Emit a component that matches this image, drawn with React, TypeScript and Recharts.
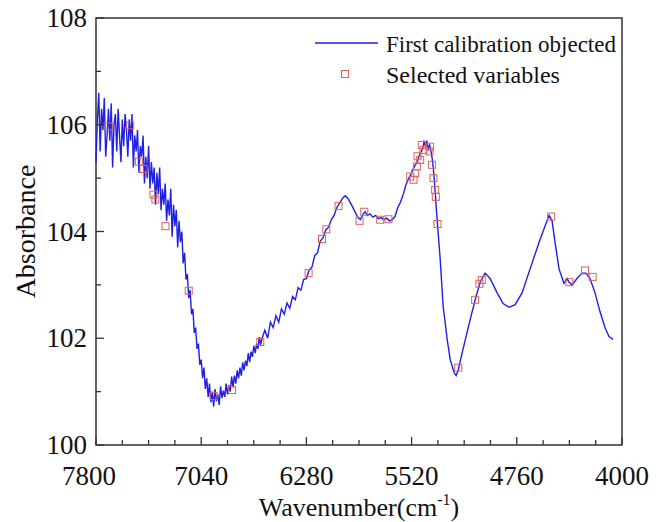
import { ComposedChart, Legend, Line, ReferenceArea, Scatter, XAxis, YAxis } from 'recharts'

// spectrum, wavenumber (cm-1) and absorbance
const spectrumWavenumber = [
  7800, 7790, 7780, 7770, 7760, 7750, 7740, 7730, 7720, 7710, 7700, 7690, 7680, 7670, 7660,
  7650, 7640, 7630, 7620, 7610, 7600, 7590, 7580, 7570, 7560, 7550, 7540, 7530, 7520, 7510,
  7500, 7490, 7480, 7470, 7460, 7450, 7440, 7430, 7420, 7410, 7400, 7390, 7380, 7370, 7360,
  7350, 7340, 7330, 7320, 7310, 7300, 7290, 7280, 7270, 7260, 7250, 7240, 7230, 7220, 7210,
  7200, 7190, 7180, 7170, 7160, 7150, 7140, 7130, 7120, 7110, 7100, 7090, 7080, 7070, 7060,
  7050, 7040, 7030, 7020, 7010, 7000, 6990, 6980, 6970, 6960, 6950, 6940, 6930, 6920, 6910,
  6900, 6890, 6880, 6870, 6860, 6850, 6840, 6830, 6820, 6810, 6800, 6790, 6780, 6770, 6760,
  6750, 6740, 6730, 6720, 6710, 6700, 6690, 6680, 6670, 6660, 6650, 6640, 6630, 6620, 6610,
  6600, 6580, 6560, 6540, 6520, 6500, 6480, 6460, 6440, 6420, 6400, 6380, 6360, 6340, 6320,
  6300, 6280, 6260, 6240, 6220, 6200, 6180, 6160, 6140, 6120, 6100, 6080, 6060, 6040, 6020,
  6000, 5980, 5950, 5920, 5905, 5890, 5870, 5855, 5840, 5820, 5800, 5780, 5760, 5740, 5720,
  5700, 5680, 5660, 5640, 5620, 5600, 5580, 5560, 5540, 5520, 5500, 5480, 5460, 5440, 5430,
  5420, 5410, 5400, 5390, 5380, 5370, 5360, 5350, 5335, 5314, 5292, 5263, 5241, 5212, 5198,
  5184, 5148, 5097, 5061, 5025, 4989, 4953, 4902, 4859, 4816, 4772, 4722, 4664, 4592, 4549,
  4527, 4505, 4484, 4455, 4419, 4397, 4383, 4361, 4325, 4289, 4260, 4231, 4195, 4159, 4123,
  4094, 4065,
]
const spectrumAbsorbance = [
  105.3, 106.1, 106.6, 105.5, 106.3, 105.9, 106.5, 105.4, 105.8, 106.3, 105.7, 106.4, 105.2, 106.0, 106.2,
  105.5, 106.3, 105.8, 105.3, 106.1, 105.6, 106.2, 105.9, 105.4, 106.1, 105.7, 106.2, 105.2, 105.8, 105.5,
  105.9, 105.1, 105.6, 105.4, 105.8, 104.9, 105.4, 105.0, 105.6, 104.8, 105.3, 104.9, 105.2, 104.5, 105.1,
  104.7, 105.2, 104.4, 104.8, 104.5, 104.9, 104.2, 104.6, 104.3, 104.8, 103.9, 104.5, 104.1, 104.4, 103.7,
  104.2, 103.8, 104.0, 103.4, 103.6, 103.1, 103.2, 102.75, 102.9, 102.45, 102.55, 102.1, 102.2, 101.8, 101.9,
  101.5, 101.6, 101.25, 101.45, 101.05, 101.25, 100.9, 101.15, 100.8, 101.0, 100.72, 101.05, 100.82, 100.95, 100.75,
  101.1, 100.88, 101.02, 100.9, 101.15, 100.95, 101.12, 101.0, 101.28, 101.08, 101.3, 101.15, 101.4, 101.25, 101.45,
  101.3, 101.55, 101.4, 101.58, 101.48, 101.72, 101.55, 101.75, 101.65, 101.86, 101.72, 101.9, 101.8, 102.02, 101.88,
  102.0, 102.15, 102.0, 102.3, 102.2, 102.42, 102.3, 102.55, 102.45, 102.66, 102.56, 102.78, 102.72, 102.95, 102.9,
  103.1, 103.12, 103.28, 103.33, 103.55, 103.6, 103.82, 103.88, 104.03, 104.08, 104.22, 104.3, 104.45, 104.53, 104.62,
  104.67, 104.62, 104.48, 104.32, 104.25, 104.22, 104.33, 104.37, 104.3, 104.33, 104.27, 104.3, 104.24, 104.26, 104.22,
  104.25, 104.2, 104.22, 104.28, 104.45, 104.55, 104.7, 104.88, 105.0, 105.1, 105.22, 105.3, 105.45, 105.55, 105.68,
  105.6, 105.7, 105.55, 105.62, 105.5, 105.35, 105.1, 104.75, 104.2, 103.5, 102.6, 101.98, 101.6, 101.35, 101.3,
  101.4, 101.8, 102.35, 102.72, 103.05, 103.22, 103.12, 102.85, 102.65, 102.58, 102.63, 102.85, 103.3, 103.85, 104.15,
  104.3, 104.2, 103.8, 103.3, 103.03, 103.12, 103.05, 103.0, 103.12, 103.22, 103.22, 103.12, 102.85, 102.5, 102.2,
  102.03, 101.98,
]

// selected variables (red squares)
const selectedWavenumber = [
  7708, 7553, 7490, 7457, 7385, 7371, 7298, 7130, 6950, 6817, 6613, 6264, 6167, 6136, 6048,
  5896, 5862, 5747, 5687, 5530, 5506, 5494, 5482, 5477, 5458, 5446, 5434, 5391, 5386, 5373,
  5362, 5350, 5345, 5333, 5183, 5061, 5030, 5013, 4512, 4380, 4267, 4212,
]
const selectedAbsorbance = [
  105.97, 105.99, 105.31, 105.17, 104.69, 104.6, 104.1, 102.89, 100.92, 101.03, 101.93, 103.22, 103.86, 104.04, 104.48,
  104.2, 104.37, 104.22, 104.23, 105.03, 104.97, 105.09, 105.22, 105.41, 105.34, 105.62, 105.53, 105.5, 105.59, 105.25,
  105.0, 104.78, 104.65, 104.14, 101.45, 102.72, 103.02, 103.09, 104.28, 103.05, 103.27, 103.15,
]

const xTicks = [7800, 7610, 7420, 7230, 7040, 6850, 6660, 6470, 6280, 6090, 5900, 5710, 5520, 5330, 5140, 4950, 4760, 4570, 4380, 4190, 4000]
const xLabels = [7800, 7040, 6280, 5520, 4760, 4000]
const yTicks = [100, 101, 102, 103, 104, 105, 106, 107, 108]
const yLabels = [100, 102, 104, 106, 108]

const spectrum = spectrumWavenumber.map((w, i) => ({ w, v: spectrumAbsorbance[i] }))
const selected = selectedWavenumber.map((w, i) => ({ w, v: selectedAbsorbance[i] }))

const serif = { fontFamily: "'Liberation Serif', 'Times New Roman', serif" }
const LINE = '#1f1fe6'
const MARK = '#e0605a'

function XTick({ x, y, payload }: any) {
  const val = payload.value
  const major = xLabels.includes(val)
  // first label sits a bit left of its tick, clear of the "100"
  const dx = val === 7800 ? -7 : 0
  return (
    <g>
      <line x1={x} x2={x} y1={y} y2={y - (major ? 8 : 5)} stroke="#333" strokeWidth={1.3} />
      {major && (
        <text x={x + dx} y={y + 40} textAnchor="middle" fontSize={27} style={serif} fill="#111">
          {val}
        </text>
      )}
    </g>
  )
}

function YTick({ x, y, payload }: any) {
  const val = payload.value
  const major = yLabels.includes(val)
  return (
    <g>
      <line x1={x} x2={x + (major ? 8 : 5)} y1={y} y2={y} stroke="#333" strokeWidth={1.3} />
      {major && (
        <text x={x - 9} y={y + 9} textAnchor="end" fontSize={27} style={serif} fill="#111">
          {val}
        </text>
      )}
    </g>
  )
}

function LegendBox() {
  return (
    <svg width={330} height={70} style={{ display: 'block' }}>
      <line x1={15} x2={78} y1={18} y2={18} stroke={LINE} strokeWidth={1.5} />
      <text x={86} y={27} fontSize={23} style={serif} fill="#111">
        First calibration objected
      </text>
      <rect x={41.5} y={45.5} width={7} height={7} fill="none" stroke={MARK} strokeWidth={1} />
      <text x={86} y={58} fontSize={24} style={serif} fill="#111">
        Selected variables
      </text>
    </svg>
  )
}

export default function App() {
  return (
    <div style={{ position: 'absolute', left: 0, top: 0, background: '#fff' }}>
      <ComposedChart width={666} height={522} margin={{ top: 18, right: 44, bottom: 0, left: 0 }}>
        <XAxis
          dataKey="w"
          type="number"
          domain={[4000, 7800]}
          reversed
          ticks={xTicks}
          interval={0}
          axisLine={false}
          tickLine={false}
          tickSize={0}
          tickMargin={0}
          height={77}
          tick={<XTick />}
          label={{
            content: ({ viewBox }: any) => (
              <text
                x={viewBox.x + viewBox.width / 2}
                y={viewBox.y + 71}
                textAnchor="middle"
                fontSize={26}
                style={serif}
                fill="#111"
              >
                Wavenumber(cm
                <tspan fontSize={16} dy={-11}>-1</tspan>
                <tspan dy={11}>)</tspan>
              </text>
            ),
          }}
        />
        <YAxis
          type="number"
          domain={[100, 108]}
          ticks={yTicks}
          interval={0}
          axisLine={false}
          tickLine={false}
          tickSize={0}
          tickMargin={0}
          width={96}
          tick={<YTick />}
          label={{
            content: ({ viewBox }: any) => (
              <text
                x={35}
                y={viewBox.y + viewBox.height / 2}
                transform={`rotate(-90 35 ${viewBox.y + viewBox.height / 2})`}
                textAnchor="middle"
                fontSize={28}
                style={serif}
                fill="#111"
              >
                Absorbance
              </text>
            ),
          }}
        />
        <ReferenceArea x1={7800} x2={4000} y1={100} y2={108} fill="none" stroke="#333" strokeWidth={1.5} />
        <Line
          data={spectrum}
          dataKey="v"
          type="linear"
          stroke={LINE}
          strokeWidth={1.4}
          dot={false}
          isAnimationActive={false}
        />
        <Scatter
          data={selected}
          dataKey="v"
          isAnimationActive={false}
          shape={(p: any) => (
            <rect x={p.cx - 3.5} y={p.cy - 3.5} width={7} height={7} fill="none" stroke={MARK} strokeWidth={1} />
          )}
        />
        <Legend
          layout="horizontal"
          verticalAlign="middle"
          align="center"
          wrapperStyle={{ left: 300, top: 25, width: 330, height: 70 }}
          content={() => <LegendBox />}
        />
      </ComposedChart>
    </div>
  )
}
